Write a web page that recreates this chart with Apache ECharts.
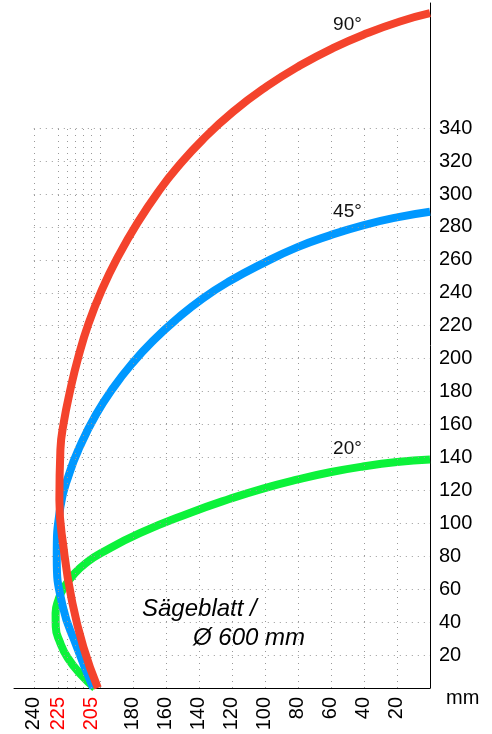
<!DOCTYPE html>
<html>
<head>
<meta charset="utf-8">
<script src="https://cdn.jsdelivr.net/npm/echarts@6/dist/echarts.min.js"></script>
<style>html,body{margin:0;padding:0;background:#fff}#c{width:492px;height:734px}</style>
</head>
<body>
<div id="c"></div>
<script>
// Data (x = width in mm, y = height in mm)
var red90 = [[201.2,0],[210,24.9],[217,53.5],[221.8,83.8],[224.5,114.2],[223.9,144.6],[221.9,161],[217.9,181],[213,201.1],[206.7,221.7],[198.8,241.8],[189.1,261.8],[177.2,282.5],[163.7,302.6],[152.8,316.5],[137.8,332.9],[119.4,349.9],[98.8,365.4],[78.8,378],[58.8,388.6],[38.2,397.6],[18.2,404.8],[0,409.8]];
var blue45 = [[204,0],[213.9,24.9],[222.4,49.2],[226.1,79.6],[223.9,110],[218.4,130.6],[212.2,146.4],[202.4,165.9],[191.9,182.3],[180.1,197.5],[167.2,211.4],[153.3,224.2],[138.1,236.3],[122.1,246.7],[101.2,257.9],[80.6,267.6],[60.6,274.9],[40.6,281],[20,285.8],[0,289.2]];
var green20 = [[203,0],[211.2,7.9],[219.4,18.2],[224.2,27.9],[226.7,37.1],[226.8,45.6],[225.1,53.5],[221.9,60.8],[215.2,69.7],[207.3,76.7],[199.5,81.8],[175.8,94],[145.5,106.3],[121.2,114.9],[101.2,121.1],[80.6,126.5],[60.6,131],[40.6,134.5],[20,137.2],[0,138.8]];
var curveLabels = [['90°',50,403],['45°',50,289],['20°',50,145]];
var xLabels = [240,225,205,180,160,140,120,100,80,60,40,20];
var redXLabels = [225,205];
var yLabels = [20,40,60,80,100,120,140,160,180,200,220,240,260,280,300,320,340];
var vGrid = [240,225,220,215,210,205,200,180,160,140,120,100,80,60,40,20];
var hGrid = yLabels;
var gridTop = 340, gridLeft = 240;

var FONT = '"Liberation Sans", Arial, sans-serif';
var gridLines = [];
vGrid.forEach(function(v){ gridLines.push([{coord:[v,0]},{coord:[v,gridTop]}]); });
hGrid.forEach(function(v){ gridLines.push([{coord:[gridLeft,v]},{coord:[0,v]}]); });

function labelPoint(l){
  return {coord:[l[1],l[2]], value:l[0], symbol:'circle', symbolSize:1,
    itemStyle:{color:'rgba(0,0,0,0)'},
    label:{show:true, position:'inside', formatter:l[0], color:'#111', fontSize:19, fontFamily:FONT}};
}

function curve(name, data, color, z, lbl){
  return {name:name, type:'line', data:data, smooth:0.5, showSymbol:false, z:z,
    lineStyle:{color:color, width:8, join:'round'},
    markPoint:{data:[labelPoint(lbl)]}};
}

var chart = echarts.init(document.getElementById('c'), null, {renderer:'canvas'});
chart.setOption({
  animation:false,
  backgroundColor:'#fff',
  grid:{left:14, right:62, top:3, bottom:46, containLabel:false},
  xAxis:{type:'value', inverse:true, min:0, max:252,
    axisLine:{show:true, lineStyle:{color:'#000', width:1}},
    axisTick:{show:false}, splitLine:{show:false},
    axisLabel:{customValues:xLabels, rotate:90, margin:9, fontSize:20, fontFamily:FONT, color:'#000',
      formatter:function(v){ return redXLabels.indexOf(v)>=0 ? '{r|'+v+'}' : String(v); },
      rich:{r:{color:'#ff0000', fontSize:20, fontFamily:FONT}}}
  },
  yAxis:{type:'value', position:'right', min:0, max:416,
    axisLine:{show:true, onZero:false, lineStyle:{color:'#000', width:1}},
    axisTick:{show:false}, splitLine:{show:false},
    axisLabel:{customValues:yLabels, margin:9, fontSize:20, fontFamily:FONT, color:'#000'}
  },
  graphic:[
    {type:'text', left:446, top:688, style:{text:'mm', font:'20px '+FONT, fill:'#000'}},
    {type:'text', left:142, top:597, style:{text:'Sägeblatt /', font:'italic 24px '+FONT, fill:'#000'}},
    {type:'text', left:193, top:626, style:{text:'Ø 600 mm', font:'italic 24px '+FONT, fill:'#000'}}
  ],
  series:[
    {type:'line', data:[], z:1, silent:true,
      markLine:{silent:true, symbol:['none','none'], label:{show:false},
        lineStyle:{color:'#999', width:1, type:[1,5]}, data:gridLines}},
    curve('20°', green20, '#0cf23a', 3, curveLabels[2]),
    curve('45°', blue45, '#0098ff', 4, curveLabels[1]),
    curve('90°', red90, '#f4432c', 5, curveLabels[0])
  ]
});
</script>
</body>
</html>
